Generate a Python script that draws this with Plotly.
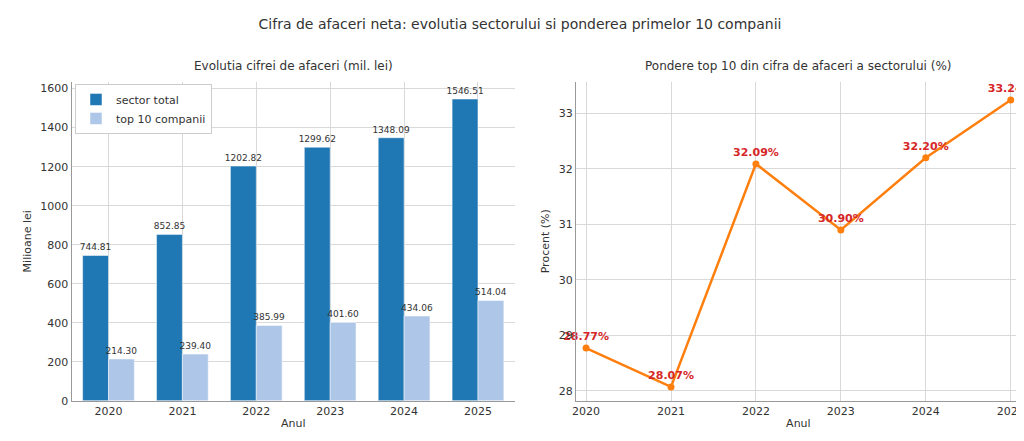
import plotly.graph_objects as go
from plotly.subplots import make_subplots

years = ["2020", "2021", "2022", "2023", "2024", "2025"]
sector_total = [744.81, 852.85, 1202.82, 1299.62, 1348.09, 1546.51]
top10 = [214.30, 239.40, 385.99, 401.60, 434.06, 514.04]
share = [28.77, 28.07, 32.09, 30.90, 32.20, 33.24]

fig = make_subplots(rows=1, cols=2)

fig.add_trace(go.Bar(x=years, y=sector_total, name="sector total", marker_color="#1f77b4",
                     text=[f"{v:.2f}" for v in sector_total], textposition="outside",
                     constraintext="none",
                     textfont=dict(size=9, color="#333"), cliponaxis=False), row=1, col=1)
fig.add_trace(go.Bar(x=years, y=top10, name="top 10 companii", marker_color="#aec7e8",
                     text=[f"{v:.2f}" for v in top10], textposition="outside",
                     constraintext="none",
                     textfont=dict(size=9, color="#333"), cliponaxis=False), row=1, col=1)
fig.add_trace(go.Scatter(x=years, y=share, mode="lines+markers+text", showlegend=False,
                         line=dict(color="#ff7f0e", width=2.5), marker=dict(size=7),
                         text=[f"<b>{v:.2f}%</b>" for v in share], textposition="top center",
                         textfont=dict(size=11, color="#d62728"), cliponaxis=False), row=1, col=2)

axis_style = dict(showgrid=True, gridcolor="#d9d9d9", showline=True, linecolor="#999",
                  ticks="", tickfont=dict(size=11, color="#333"), zeroline=False)
fig.update_xaxes(**axis_style)
fig.update_yaxes(**axis_style)
fig.update_xaxes(title=dict(text="Anul", font=dict(size=11), standoff=2))

fig.update_layout(
    template="plotly_white",
    width=1024, height=441,
    margin=dict(l=0, r=0, t=0, b=0),
    font=dict(family="DejaVu Sans", color="#333"),
    barmode="group", bargap=0.3, bargroupgap=0.0,
    title=dict(text="Cifra de afaceri neta: evolutia sectorului si ponderea primelor 10 companii",
               x=0.5, xanchor="center", y=0.975, yanchor="top", font=dict(size=14)),
    xaxis=dict(domain=[0.0586, 0.495]),
    xaxis2=dict(domain=[0.555, 0.993], range=[-0.12, 5.12]),
    yaxis=dict(domain=[0.095, 0.83], range=[0, 1635], dtick=200,
               title=dict(text="Milioane lei", font=dict(size=11), standoff=6)),
    yaxis2=dict(domain=[0.095, 0.83], range=[27.82, 33.57], dtick=1,
                title=dict(text="Procent (%)", font=dict(size=11), standoff=6)),
    legend=dict(x=0.062, y=0.825, xanchor="left", yanchor="top", bgcolor="white",
                bordercolor="#ccc", borderwidth=1, font=dict(size=11),
                itemwidth=30, tracegroupgap=0),
    annotations=[
        dict(text="Evolutia cifrei de afaceri (mil. lei)", x=0.277, y=0.845, xref="paper", yref="paper",
             showarrow=False, font=dict(size=12), xanchor="center", yanchor="bottom"),
        dict(text="Pondere top 10 din cifra de afaceri a sectorului (%)", x=0.774, y=0.845,
             xref="paper", yref="paper", showarrow=False, font=dict(size=12),
             xanchor="center", yanchor="bottom"),
    ],
)

fig.write_html("out.html")
